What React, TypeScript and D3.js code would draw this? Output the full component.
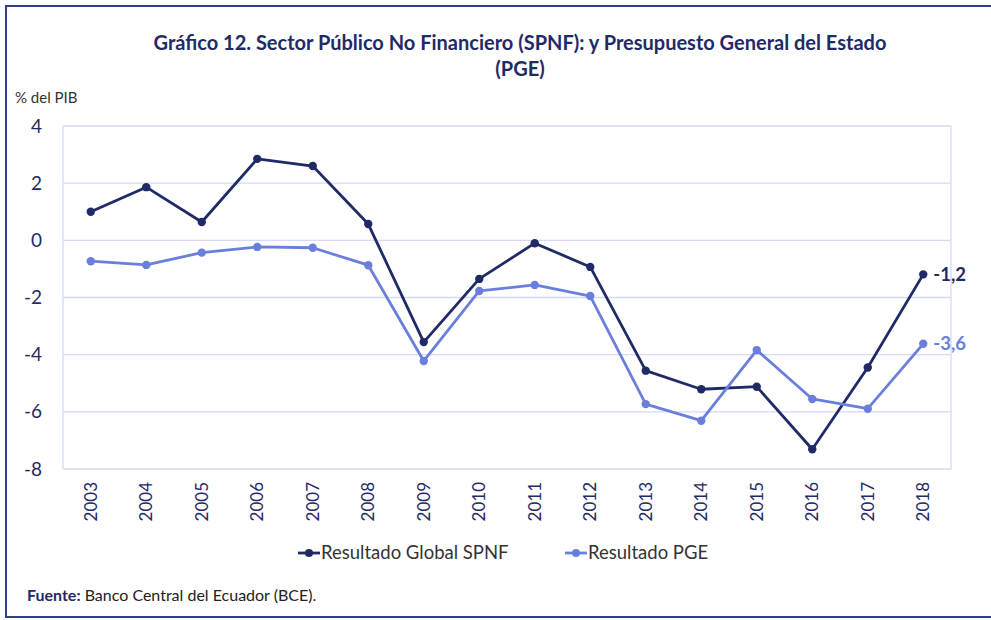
import React, { useEffect, useRef } from 'react';
import * as d3 from 'd3';

const years = ['2003', '2004', '2005', '2006', '2007', '2008', '2009', '2010', '2011', '2012', '2013', '2014', '2015', '2016', '2017', '2018'];
const spnf = [1.0, 1.86, 0.64, 2.85, 2.6, 0.57, -3.56, -1.35, -0.1, -0.93, -4.56, -5.21, -5.12, -7.31, -4.45, -1.19];
const pge = [-0.73, -0.86, -0.43, -0.23, -0.26, -0.87, -4.22, -1.77, -1.56, -1.95, -5.73, -6.31, -3.84, -5.55, -5.89, -3.62];
const yTicks = [4, 2, 0, -2, -4, -6, -8];
const seriesNames = ['Resultado Global SPNF', 'Resultado PGE'];
const endLabels = ['-1,2', '-3,6'];

const DARK = '#1f2a66';
const LIGHT = '#6a7fdc';
const FONT = 'Lato, "Open Sans", sans-serif';

const App = () => {
  const svgRef = useRef<SVGSVGElement>(null);

  useEffect(() => {
    const svg = d3.select(svgRef.current);
    svg.selectAll('*').remove();

    const W = 991, H = 620;
    const margin = { top: 126, right: 40, bottom: 151, left: 63 };
    const width = W - margin.left - margin.right;
    const height = H - margin.top - margin.bottom;

    svg.attr('width', W).attr('height', H).style('font-family', FONT);

    svg.append('rect')
      .attr('x', 0).attr('y', 0).attr('width', W).attr('height', H)
      .attr('fill', 'white');

    // frame
    svg.append('rect')
      .attr('x', 6).attr('y', 6).attr('width', 1000).attr('height', 611)
      .attr('fill', 'none').attr('stroke', '#2e3f8f').attr('stroke-width', 2);

    // title
    const title = svg.append('text')
      .attr('text-anchor', 'middle')
      .style('font-size', '20px').style('font-weight', 'bold')
      .attr('fill', DARK);
    title.append('tspan').attr('x', 520).attr('y', 50)
      .text('Gráfico 12. Sector Público No Financiero (SPNF): y Presupuesto General del Estado');
    title.append('tspan').attr('x', 520).attr('y', 76).text('(PGE)');

    svg.append('text')
      .attr('x', 15).attr('y', 103)
      .style('font-size', '15px').attr('fill', '#333')
      .text('% del PIB');

    const g = svg.append('g').attr('transform', `translate(${margin.left},${margin.top})`);

    const x = d3.scaleBand().domain(years).range([0, width]);
    const y = d3.scaleLinear().domain([-8, 4]).range([height, 0]);

    // gridlines
    g.append('g')
      .selectAll('line')
      .data(yTicks)
      .join('line')
      .attr('x1', 0).attr('x2', width)
      .attr('y1', d => y(d)).attr('y2', d => y(d))
      .attr('stroke', '#d6daf4').attr('stroke-width', 1.3);

    g.append('line')
      .attr('x1', 0).attr('x2', 0).attr('y1', 0).attr('y2', height)
      .attr('stroke', '#d6daf4').attr('stroke-width', 1.3);
    g.append('line')
      .attr('x1', width).attr('x2', width).attr('y1', 0).attr('y2', height)
      .attr('stroke', '#d6daf4').attr('stroke-width', 1.3);

    // y labels
    g.append('g')
      .selectAll('text')
      .data(yTicks)
      .join('text')
      .attr('x', -21).attr('y', d => y(d))
      .attr('dy', '0.35em')
      .attr('text-anchor', 'end')
      .style('font-size', '19px')
      .attr('fill', DARK)
      .text(d => d);

    // x labels
    g.append('g')
      .selectAll('text')
      .data(years)
      .join('text')
      .attr('transform', d => `translate(${x(d)! + x.bandwidth() / 2 + 6},${height + 13}) rotate(-90)`)
      .attr('text-anchor', 'end')
      .style('font-size', '17px')
      .attr('fill', DARK)
      .text(d => d);

    const series = [
      { name: seriesNames[0], values: spnf, color: DARK, label: endLabels[0] },
      { name: seriesNames[1], values: pge, color: LIGHT, label: endLabels[1] },
    ];

    const line = d3.line<number>()
      .x((_, i) => x(years[i])! + x.bandwidth() / 2)
      .y(d => y(d));

    series.forEach(s => {
      g.append('path')
        .datum(s.values)
        .attr('fill', 'none')
        .attr('stroke', s.color)
        .attr('stroke-width', 2.8)
        .attr('stroke-linejoin', 'round')
        .attr('d', line);

      g.append('g')
        .selectAll('circle')
        .data(s.values)
        .join('circle')
        .attr('cx', (_, i) => x(years[i])! + x.bandwidth() / 2)
        .attr('cy', d => y(d))
        .attr('r', 4.2)
        .attr('fill', s.color);

      const last = s.values[s.values.length - 1];
      g.append('text')
        .attr('x', x(years[years.length - 1])! + x.bandwidth() / 2 + 10)
        .attr('y', y(last))
        .attr('dy', '0.35em')
        .style('font-size', '18.5px').style('font-weight', 'bold')
        .attr('fill', s.color)
        .text(s.label);
    });

    // legend
    const legendPos = [298, 565];
    series.forEach((s, i) => {
      const lg = svg.append('g').attr('transform', `translate(${legendPos[i]},553)`);
      lg.append('line').attr('x1', 0).attr('x2', 22).attr('y1', 0).attr('y2', 0)
        .attr('stroke', s.color).attr('stroke-width', 2.8);
      lg.append('circle').attr('cx', 11).attr('cy', 0).attr('r', 4).attr('fill', s.color);
      lg.append('text').attr('x', 23).attr('y', 0).attr('dy', '0.35em')
        .style('font-size', '18.5px').attr('fill', '#333')
        .text(s.name);
    });

    // source
    const src = svg.append('text').attr('x', 27).attr('y', 601)
      .style('font-size', '16px').attr('fill', '#222');
    src.append('tspan').style('font-weight', 'bold').attr('fill', DARK).text('Fuente:');
    src.append('tspan').text(' Banco Central del Ecuador (BCE).');
  }, []);

  return (
    <div style={{ position: 'absolute', left: 0, top: 0 }}>
      <svg ref={svgRef}></svg>
    </div>
  );
};

export default App;
